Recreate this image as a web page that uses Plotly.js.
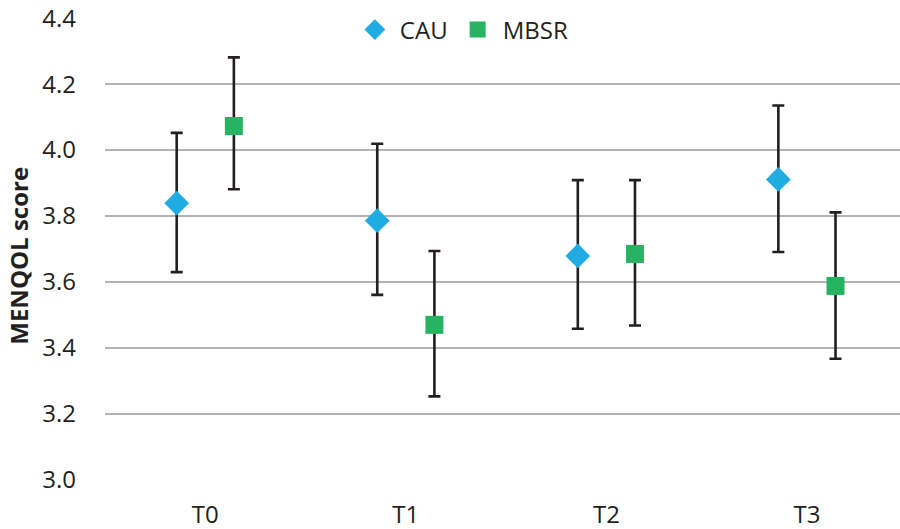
<!DOCTYPE html>
<html>
<head>
<meta charset="utf-8">
<script src="https://cdn.plot.ly/plotly-3.0.1.min.js"></script>
<style>html,body{margin:0;padding:0;background:#fff;}#chart{width:900px;height:529px;}</style>
</head>
<body>
<div id="chart"></div>
<script>
const categories = ["T0", "T1", "T2", "T3"];
const cauMean  = [3.839, 3.786, 3.679, 3.911];
const cauUpper = [4.052, 4.019, 3.909, 4.135];
const cauLower = [3.630, 3.561, 3.458, 3.691];
const mbsrMean  = [4.073, 3.470, 3.685, 3.588];
const mbsrUpper = [4.281, 3.694, 3.909, 3.811];
const mbsrLower = [3.881, 3.253, 3.468, 3.367];
const yTicks = [3.0, 3.2, 3.4, 3.6, 3.8, 4.0, 4.2, 4.4];

const offset = 0.1425;
const idx = categories.map((c, i) => i);
const font = "'Open Sans', 'Liberation Sans', sans-serif";
const ink = '#231f20';

function errs(mean, upper, lower) {
  return {
    type: 'data', symmetric: false,
    array: upper.map((u, i) => u - mean[i]),
    arrayminus: mean.map((m, i) => m - lower[i]),
    color: ink, thickness: 2.6, width: 6
  };
}

const traces = [
  {
    name: 'CAU', type: 'scatter', mode: 'markers',
    x: idx.map(i => i - offset), y: cauMean,
    marker: {symbol: 'diamond', size: 19, color: '#20abe3'},
    error_y: errs(cauMean, cauUpper, cauLower)
  },
  {
    name: 'MBSR', type: 'scatter', mode: 'markers',
    x: idx.map(i => i + offset), y: mbsrMean,
    marker: {symbol: 'square', size: 18, color: '#27b462'},
    error_y: errs(mbsrMean, mbsrUpper, mbsrLower)
  }
];

const layout = {
  width: 900, height: 529,
  margin: {l: 104.5, r: 0, t: 18.3, b: 48.7},
  paper_bgcolor: '#fff', plot_bgcolor: '#fff',
  font: {family: font, color: ink, size: 24},
  showlegend: true,
  legend: {
    orientation: 'h', x: 0.308, xanchor: 'left', y: 0.974, yanchor: 'middle',
    bgcolor: '#ffffff', font: {family: font, size: 24, color: ink},
    itemwidth: 40, tracegroupgap: 0
  },
  xaxis: {
    range: [-0.5, 3.464], tickmode: 'array', tickvals: idx, ticktext: categories,
    showgrid: false, zeroline: false, showline: false, ticks: '',
    tickfont: {family: font, size: 24, color: ink}, ticklabelstandoff: 18
  },
  yaxis: {
    range: [2.9995, 4.4005], tickmode: 'array', tickvals: yTicks,
    ticktext: yTicks.map(v => v.toFixed(1)),
    showgrid: true, gridcolor: '#b3b3b3', gridwidth: 1.3,
    zeroline: false, showline: false, ticks: '',
    tickfont: {family: font, size: 24, color: ink}, ticklabelstandoff: 28
  },
  annotations: [{
    text: '<b>MENQOL score</b>', textangle: -90, showarrow: false,
    xref: 'paper', yref: 'paper', x: 0, xshift: -86, y: 0.4855,
    xanchor: 'center', yanchor: 'middle',
    font: {family: font, size: 24, color: ink}
  }]
};

Plotly.newPlot('chart', traces, layout, {displayModeBar: false, staticPlot: true});
</script>
</body>
</html>
